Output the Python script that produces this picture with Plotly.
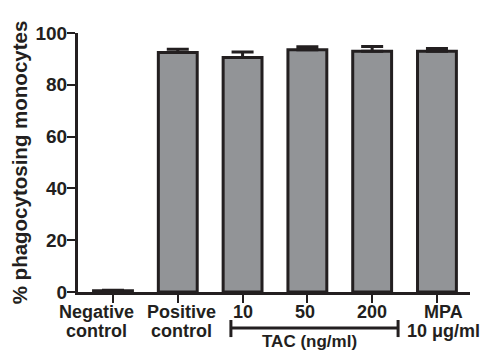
import plotly.graph_objects as go

label_line1 = ["Negative", "Positive", "10", "50", "200", "MPA"]
label_line2 = ["control", "control", "", "", "", "10 μg/ml"]
values = [0.5, 92.5, 90.5, 93.5, 93.0, 93.0]
errors = [0.2, 1.2, 2.2, 1.2, 1.8, 1.0]
yticks = [0, 20, 40, 60, 80, 100]

# horizontal nudges of the category labels (layout only)
label_dx = [-0.26, 0.05, 0.0, -0.03, 0.0, 0.10]

dark = "#231f20"
xpos = list(range(len(values)))

fig = go.Figure()
fig.add_trace(go.Bar(
    x=xpos, y=values, width=0.6,
    marker=dict(color="#929497", line=dict(color=dark, width=3)),
    error_y=dict(type="data", symmetric=False, array=errors, arrayminus=[0]*len(errors),
                 color=dark, thickness=3, width=11),
))

font = dict(family="Liberation Sans, Arial, sans-serif", size=17, color=dark)

fig.update_layout(
    width=483, height=352,
    margin=dict(l=78, r=13, t=33, b=60, autoexpand=False),
    plot_bgcolor="white", paper_bgcolor="white",
    showlegend=False,
    font=font,
    xaxis=dict(
        range=[-0.54, 5.51], tickvals=xpos, ticktext=[""] * len(xpos),
        showline=True, linecolor=dark, linewidth=3,
        ticks="outside", ticklen=8, tickwidth=2, tickcolor=dark,
        showgrid=False, zeroline=False, automargin=False,
    ),
    yaxis=dict(
        range=[0, 100], tickvals=yticks, ticktext=["<b>%d</b>" % v for v in yticks],
        showline=True, linecolor=dark, linewidth=3,
        ticks="outside", ticklen=8, tickwidth=2, tickcolor=dark,
        ticklabelstandoff=-4,
        showgrid=False, zeroline=False, tickfont=dict(size=19), automargin=False,
        title=dict(text="<b>% phagocytosing monocytes</b>", font=dict(size=20.5), standoff=3),
    ),
)

# category labels under the x axis
for xv, dx, l1, l2 in zip(xpos, label_dx, label_line1, label_line2):
    fig.add_annotation(text="<b>%s</b>" % l1, xref="x", yref="paper", x=xv + dx, y=-0.078,
                       showarrow=False, yanchor="middle", xanchor="center",
                       font=dict(size=18, color=dark))
    if l2:
        fig.add_annotation(text="<b>%s</b>" % l2, xref="x", yref="paper", x=xv + dx, y=-0.152,
                           showarrow=False, yanchor="middle", xanchor="center",
                           font=dict(size=18, color=dark))

# TAC bracket
yl, yc0, yc1 = -0.139, -0.108, -0.174
x0, x1 = 1.82, 4.40
fig.add_shape(type="line", xref="x", yref="paper", x0=x0, x1=x1, y0=yl, y1=yl,
              line=dict(color=dark, width=3))
for xx in (x0, x1):
    fig.add_shape(type="line", xref="x", yref="paper", x0=xx, x1=xx, y0=yc0, y1=yc1,
                  line=dict(color=dark, width=3))
fig.add_annotation(text="<b>TAC (ng/ml)</b>", xref="x", yref="paper", x=3.04, y=-0.193,
                   showarrow=False, yanchor="middle", font=dict(size=17, color=dark))

fig.write_html("out.html")
